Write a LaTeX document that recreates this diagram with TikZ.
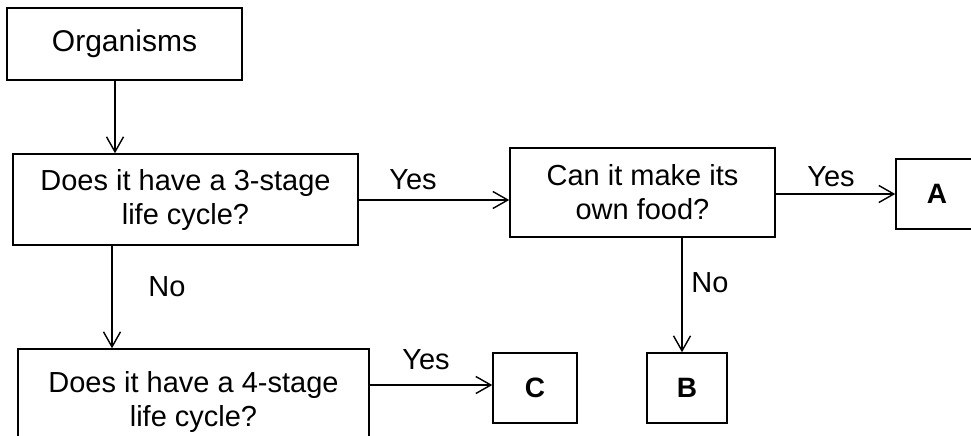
\documentclass[tikz,border=0pt]{standalone}
\usepackage{fontspec}
\setmainfont{Liberation Sans}
\usetikzlibrary{arrows.meta}
\begin{document}
\begin{tikzpicture}[x=1pt,y=-1pt,
  box/.style={draw, line width=1.5pt, inner sep=0pt, align=center,
    font=\fontsize{29}{34}\selectfont},
  letterbox/.style={box, font=\fontsize{28}{34}\selectfont\bfseries},
  arr/.style={line width=1.4pt, -{Straight Barb[length=15pt,width=17pt,line width=1.4pt]}},
  lbl/.style={inner sep=0pt, font=\fontsize{29}{34}\selectfont}]
\useasboundingbox (0,0) rectangle (971,436);
\clip (0,0) rectangle (971,436);
\node[box, minimum width=235pt, minimum height=72pt, font=\fontsize{30}{34}\selectfont] (org) at (124.5,44) {Organisms};
\node[box, minimum width=345pt, minimum height=91pt] (q3) at (185.5,199.5) {Does it have a 3-stage\\life cycle?};
\node[box, minimum width=265pt, minimum height=89pt] (food) at (642.5,192.5) {Can it make its\\own food?};
\node[letterbox, minimum width=82pt, minimum height=70pt] (A) at (937,194) {A};
\node[box, minimum width=351pt, minimum height=105pt] (q4) at (193.5,401.5) {Does it have a 4-stage\\life cycle?};
\node[letterbox, minimum width=84pt, minimum height=70pt] (C) at (535,388) {C};
\node[letterbox, minimum width=80pt, minimum height=70pt] (B) at (687,388) {B};
\draw[arr] (org.south -| 115,0) -- (q3.north -| 115,0);
\draw[arr] (q3.east |- 0,200) -- (food.west |- 0,200);
\draw[arr] (food.east |- 0,194) -- (A.west |- 0,194);
\draw[arr] (q3.south -| 112,0) -- (q4.north -| 112,0);
\draw[arr] (q4.east |- 0,385) -- (C.west |- 0,385);
\draw[arr] (food.south -| 682,0) -- (B.north -| 682,0);
\node[lbl] (y1) at (413,180) {Yes};
\node[lbl] (y2) at (831,177) {Yes};
\node[lbl] (n1) at (167,287) {No};
\node[lbl] (n2) at (710,283) {No};
\node[lbl] (y3) at (426,360) {Yes};
\end{tikzpicture}
\end{document}
